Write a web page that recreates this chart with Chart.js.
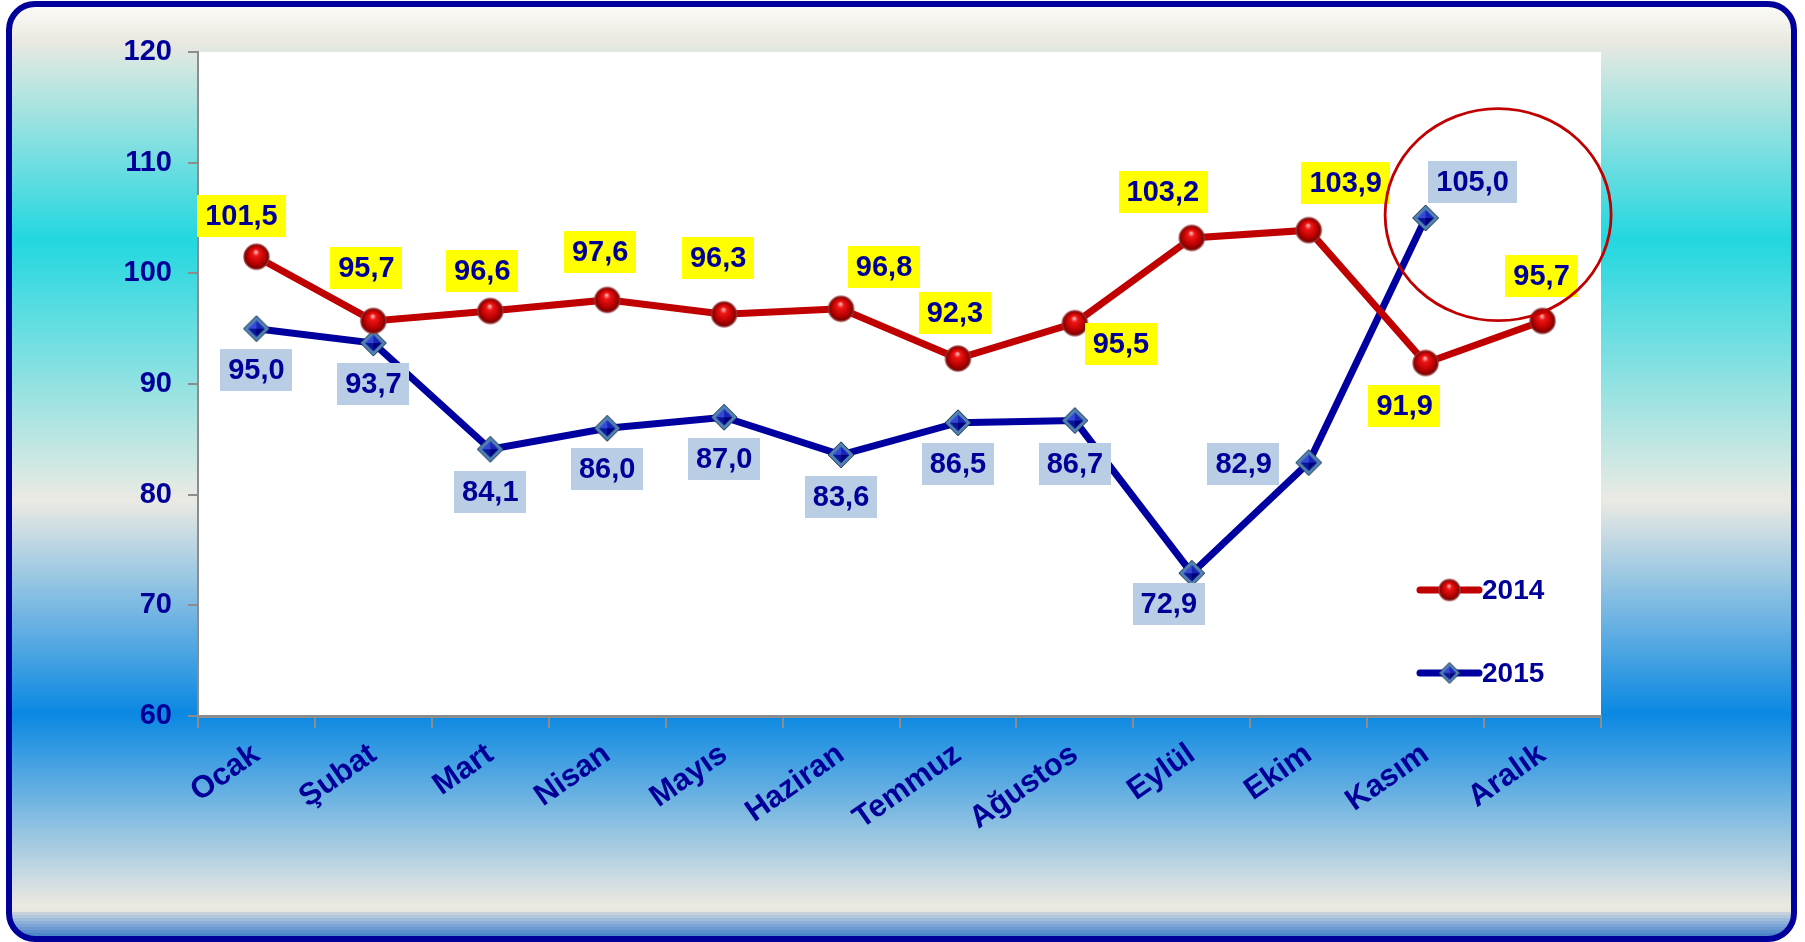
<!DOCTYPE html>
<html><head><meta charset="utf-8">
<script src="https://cdn.jsdelivr.net/npm/chart.js@4"></script>
<style>html,body{margin:0;padding:0;background:#fff;overflow:hidden}#wrap{width:1805px;height:942px;position:relative}</style>
</head><body><div id="wrap"><canvas id="c" width="1805" height="942"></canvas></div>
<script>
// ---- data ----
const months = ['Ocak','Şubat','Mart','Nisan','Mayıs','Haziran','Temmuz','Ağustos','Eylül','Ekim','Kasım','Aralık'];
const values2014 = [101.5, 95.7, 96.6, 97.6, 96.3, 96.8, 92.3, 95.5, 103.2, 103.9, 91.9, 95.7];
const values2015 = [95.0, 93.7, 84.1, 86.0, 87.0, 83.6, 86.5, 86.7, 72.9, 82.9, 105.0, null];
const yTicks = [60, 70, 80, 90, 100, 110, 120];
const seriesNames = ['2014', '2015'];

// label offsets (px) relative to each point
const labelOffsets2014 = [[-15,-41],[-7,-53],[-8,-40],[-7,-48],[-6,-56],[43,-42],[-3,-46],[46,21],[-29,-46],[37,-47],[-21,43],[-1,-45]];
const labelOffsets2015 = [[0,41],[0,41],[0,43],[0,41],[0,42],[0,42],[0,41],[0,43],[-23,31],[-65,1],[47,-36],[0,0]];

const NAVY = '#000099';
const FONT = "'Liberation Sans', Arial, sans-serif";

function makeSphere(r) {
  const s = Math.ceil(r * 2 + 4);
  const c = document.createElement('canvas'); c.width = s; c.height = s;
  const g = c.getContext('2d'); const cx = s / 2, cy = s / 2;
  g.beginPath(); g.arc(cx, cy, r, 0, Math.PI * 2);
  const rg = g.createRadialGradient(cx - r * 0.05, cy - r * 0.4, r * 0.05, cx, cy, r);
  rg.addColorStop(0, '#ffb0b0'); rg.addColorStop(0.22, '#f01515');
  rg.addColorStop(0.7, '#b80000'); rg.addColorStop(1, '#6a0000');
  g.fillStyle = rg; g.fill();
  g.lineWidth = 1.5; g.strokeStyle = 'rgba(150,60,60,0.85)'; g.stroke();
  return c;
}
function makeDiamond(h) {
  const s = Math.ceil(h * 2 + 4);
  const c = document.createElement('canvas'); c.width = s; c.height = s;
  const g = c.getContext('2d'); const m = s / 2;
  g.beginPath(); g.moveTo(m, m - h); g.lineTo(m + h, m); g.lineTo(m, m + h); g.lineTo(m - h, m); g.closePath();
  g.fillStyle = '#5282b0'; g.fill(); g.lineWidth = 1; g.strokeStyle = '#1c3558'; g.stroke();
  const k = h * 0.64;
  const T = [m, m - k], R = [m + k, m], B = [m, m + k], L = [m - k, m], C = [m, m];
  const tri = (a, b, col) => { g.beginPath(); g.moveTo(C[0], C[1]); g.lineTo(a[0], a[1]); g.lineTo(b[0], b[1]); g.closePath(); g.fillStyle = col; g.fill(); };
  tri(L, T, '#3548d8'); tri(T, R, '#1826b8'); tri(R, B, '#00007e'); tri(B, L, '#0a1598');
  return c;
}
const sphereImg = makeSphere(12.5), diamondImg = makeDiamond(13);
const sphereSmall = makeSphere(10.5), diamondSmall = makeDiamond(10.5);

const fmt = v => v.toFixed(1).replace('.', ',');

const bgPlugin = {
  id: 'bg',
  beforeDraw(chart) {
    const ctx = chart.ctx, W = chart.width, H = chart.height;
    ctx.save();
    ctx.fillStyle = '#fff'; ctx.fillRect(0, 0, W, H);
    const x0 = 9, y0 = 4, x1 = 1794, y1 = 939, r = 26;
    const path = () => { ctx.beginPath(); ctx.roundRect(x0, y0, x1 - x0, y1 - y0, r); };
    const gr = ctx.createLinearGradient(0, y0, 0, y1);
    const st = (y, c) => gr.addColorStop((y - y0) / (y1 - y0), c);
    st(6, '#fbfbf7'); st(40, '#ebe9e1'); st(240, '#22d7e0'); st(500, '#ebeae3');
    st(714, '#0a88e2'); st(905, '#ebe9e1'); st(912, '#e6e6e0');
    path(); ctx.fillStyle = gr; ctx.fill();
    ctx.save(); path(); ctx.clip();
    const stripes = ['#c8d0dc','#b4c8dc','#a0bcdc','#8cb0d8','#7ca4d4','#6c9ad0','#5c90cc','#4c86c8','#4080c4'];
    stripes.forEach((c, i) => { ctx.fillStyle = c; ctx.fillRect(0, 912 + i * 3, W, 3); });
    ctx.restore();
    path(); ctx.lineWidth = 6; ctx.strokeStyle = '#00009a'; ctx.stroke();
    const ca = chart.chartArea;
    ctx.fillStyle = '#ffffff'; ctx.fillRect(ca.left, ca.top, ca.right - ca.left, ca.bottom - ca.top);
    ctx.restore();
  }
};

const labelPlugin = {
  id: 'vlabels',
  afterDatasetsDraw(chart, args, opts) {
    const ctx = chart.ctx;
    ctx.save();
    ctx.font = 'bold 29px ' + FONT;
    ctx.textAlign = 'center'; ctx.textBaseline = 'middle';
    chart.data.datasets.forEach((ds, di) => {
      const meta = chart.getDatasetMeta(di);
      const offs = opts.offsets[di]; const bg = opts.backgrounds[di];
      meta.data.forEach((pt, i) => {
        const v = ds.data[i]; if (v === null || v === undefined) return;
        const t = fmt(v);
        const w = ctx.measureText(t).width + 16, h = 42;
        const cx = pt.x + offs[i][0], cy = pt.y + offs[i][1];
        ctx.fillStyle = bg; ctx.fillRect(Math.round(cx - w / 2), Math.round(cy - h / 2), Math.round(w), h);
        ctx.fillStyle = NAVY; ctx.fillText(t, cx, cy + 1);
      });
    });
    ctx.restore();
  },
  afterDraw(chart) {
    const ctx = chart.ctx, ca = chart.chartArea;
    const xs = chart.scales.x, ys = chart.scales.y;
    // highlight ellipse around Kasım 2015
    const step = xs.getPixelForValue(1) - xs.getPixelForValue(0);
    const cx = xs.getPixelForValue(10) + 0.62 * step, cy = ys.getPixelForValue(105.3);
    ctx.save();
    ctx.beginPath(); ctx.ellipse(cx, cy, 113, 106, 0, 0, Math.PI * 2);
    ctx.lineWidth = 2.8; ctx.strokeStyle = '#c00000'; ctx.stroke();
    // legend
    const items = [
      { label: chart.data.datasets[0].label, color: '#c00000', img: sphereSmall, y: ca.bottom - 126 },
      { label: chart.data.datasets[1].label, color: '#0000a0', img: diamondSmall, y: ca.bottom - 43 }
    ];
    const lx0 = ca.right - 181, lx1 = ca.right - 122;
    items.forEach(it => {
      ctx.beginPath(); ctx.moveTo(lx0, it.y); ctx.lineTo(lx1, it.y);
      ctx.lineWidth = 7; ctx.lineCap = 'round'; ctx.strokeStyle = it.color; ctx.stroke();
      ctx.drawImage(it.img, (lx0 + lx1) / 2 - it.img.width / 2, it.y - it.img.height / 2);
      ctx.font = 'bold 28px ' + FONT; ctx.fillStyle = NAVY;
      ctx.textAlign = 'left'; ctx.textBaseline = 'middle';
      ctx.fillText(it.label, ca.right - 119, it.y + 1);
    });
    ctx.restore();
  }
};

new Chart(document.getElementById('c'), {
  type: 'line',
  data: {
    labels: months,
    datasets: [
      { label: seriesNames[0], data: values2014, borderColor: '#c00000', borderWidth: 7,
        pointStyle: sphereImg, pointRadius: 12, pointHoverRadius: 12, tension: 0, order: 0 },
      { label: seriesNames[1], data: values2015, borderColor: '#0000a0', borderWidth: 7,
        pointStyle: diamondImg, pointRadius: 13, pointHoverRadius: 13, tension: 0, order: 1 }
    ]
  },
  options: {
    responsive: false, animation: false, devicePixelRatio: 1,
    layout: { padding: { left: 0, right: 204, top: 52, bottom: 0 } },
    plugins: {
      legend: { display: false }, tooltip: { enabled: false },
      vlabels: { offsets: [labelOffsets2014, labelOffsets2015], backgrounds: ['#ffff00', '#b9cde5'] }
    },
    scales: {
      x: {
        offset: true,
        grid: { offset: true, drawOnChartArea: false, color: '#8c8c8c', lineWidth: 2, tickLength: 12 },
        border: { color: '#8c8c8c', width: 3 },
        ticks: { color: NAVY, font: { family: FONT, size: 31, weight: 'bold' }, minRotation: 35, maxRotation: 35, padding: 8, autoSkip: false },
        afterFit(s) { s.height = 226; }
      },
      y: {
        min: 60, max: 120,
        afterBuildTicks(s) { s.ticks = yTicks.map(v => ({ value: v })); },
        grid: { drawOnChartArea: false, color: '#8c8c8c', lineWidth: 2, tickLength: 10 },
        border: { color: '#8c8c8c', width: 2 },
        ticks: { color: NAVY, font: { family: FONT, size: 29, weight: 'bold' }, padding: 16 },
        afterFit(s) { s.width = 198; }
      }
    }
  },
  plugins: [bgPlugin, labelPlugin]
});
</script></body></html>
